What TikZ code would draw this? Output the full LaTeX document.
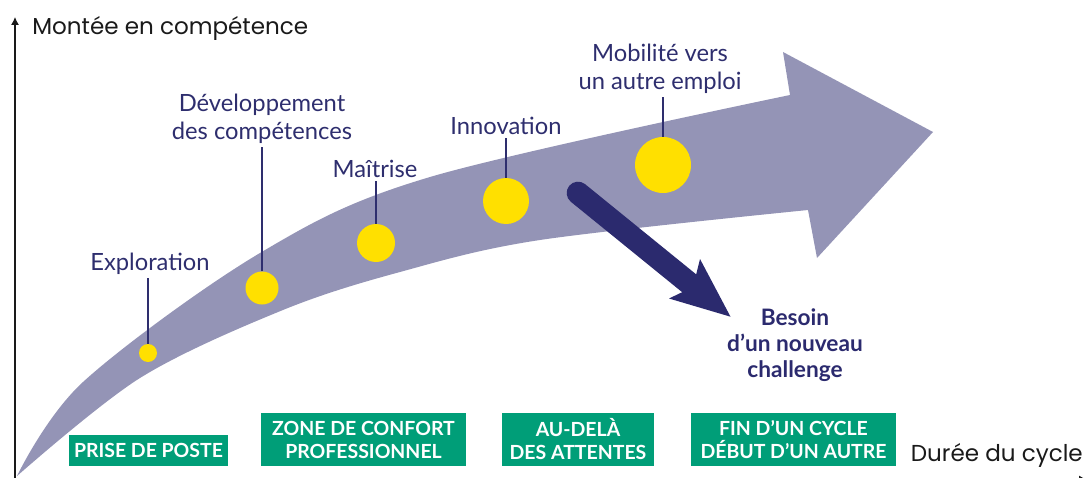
\documentclass[tikz,border=0pt]{standalone}
\usepackage{fontspec}
\setmainfont{Lato}
\newfontfamily\axisfont{Poppins}
\usetikzlibrary{arrows.meta}
\definecolor{band}{HTML}{9494B6}
\definecolor{navy}{HTML}{2B2A6E}
\definecolor{sun}{HTML}{FFE000}
\definecolor{boxgreen}{HTML}{009E78}
\definecolor{labelblue}{HTML}{2E2E6E}
\definecolor{axisblack}{HTML}{1A1A1A}
\begin{document}
\begin{tikzpicture}[x=0.75pt,y=-0.75pt,
  lbl/.style={font=\fontsize{17.8}{21}\selectfont, text=labelblue, align=center, inner sep=2pt},
  stem/.style={draw=labelblue, line width=0.9pt},
  dot/.style={circle, fill=sun, inner sep=0pt},
  stage/.style={fill=boxgreen, text=white, font=\bfseries\fontsize{14.6}{17.25}\selectfont, align=center, inner sep=0pt},
  axislbl/.style={font=\axisfont\fontsize{17.3}{20}\selectfont, text=axisblack, inner sep=0pt},
  axisline/.style={draw=axisblack, line width=0.8pt, -{Latex[length=6pt,width=6pt]}}
]
\useasboundingbox (0,0) rectangle (1088,478);
\clip (0,0) rectangle (1088,478);

% big curved arrow
\fill[band] plot[smooth, tension=0.55] coordinates {(17,476) (83,382) (260,253) (430,177) (790,95)}
  -- (783,52) -- (933,132) -- (817,258) -- (808,210)
  -- plot[smooth, tension=0.55] coordinates {(808,210) (540,240) (400,272) (283,310) (140,378) (17,476)} -- cycle;

% axes
\coordinate (O) at (15,478);
\coordinate (Ytop) at (15,17);
\coordinate (Xs) at (15,479.5);
\coordinate (Xe) at (1087,479.5);
\draw[axisline] (O) -- (Ytop);
\draw[axisline] (Xs) -- (Xe);
\node[axislbl, anchor=west] (ylab) at (32,28) {Montée en compétence};
\node[axislbl, anchor=east] (xlab) at (1083,455) {Durée du cycle};

% dots
\node[dot, minimum size=13.5pt] (d1) at (148,353) {};
\node[dot, minimum size=24.75pt] (d2) at (262,288) {};
\node[dot, minimum size=28.5pt] (d3) at (376,243) {};
\node[dot, minimum size=34.5pt] (d4) at (506,201) {};
\node[dot, minimum size=42pt] (d5) at (663,165) {};

% labels
\node[lbl] (l1) at (150,264) {Exploration};
\node[lbl] (l2) at (262,119) {Développement\\des compétences};
\node[lbl] (l3) at (375,169) {Maîtrise};
\node[lbl] (l4) at (506,126) {Innovation};
\node[lbl] (l5) at (660,69) {Mobilité vers\\un autre emploi};

\draw[stem] (d1.north) -- (d1.north |- l1.south);
\draw[stem] (d2.north) -- (d2.north |- l2.south);
\draw[stem] (d3.north) -- (d3.north |- l3.south);
\draw[stem] (d4.north) -- (d4.north |- l4.south);
\draw[stem] (d5.north) -- (d5.north |- l5.south);

% dark arrow
\coordinate (as) at (578,193);
\coordinate (ae) at (695,288);
\coordinate (tip) at (730.5,316.7);
\coordinate (barbA) at (700,259);
\coordinate (notch) at (693,287);
\coordinate (barbB) at (669,298.5);
\draw[navy, line width=17pt, line cap=round] (as) -- (ae);
\fill[navy] (tip) -- (barbA) -- (notch) -- (barbB) -- cycle;

\node[font=\bfseries\fontsize{17}{19.5}\selectfont, text=navy, align=center, inner sep=0pt] (need) at (795,345) {Besoin\\d’un nouveau\\challenge};

% stage boxes
\node[stage, minimum width=119.25pt, minimum height=23.25pt] (s1) at (148.5,450.5) {PRISE DE POSTE};
\node[stage, minimum width=153.75pt, minimum height=39.75pt] (s2) at (363.5,439.5) {ZONE DE CONFORT\\PROFESSIONNEL};
\node[stage, minimum width=114pt, minimum height=39.75pt] (s3) at (578,439.5) {AU-DELÀ\\DES ATTENTES};
\node[stage, minimum width=153.75pt, minimum height=39.75pt] (s4) at (793.5,439.5) {FIN D’UN CYCLE\\DÉBUT D’UN AUTRE};
\end{tikzpicture}
\end{document}
